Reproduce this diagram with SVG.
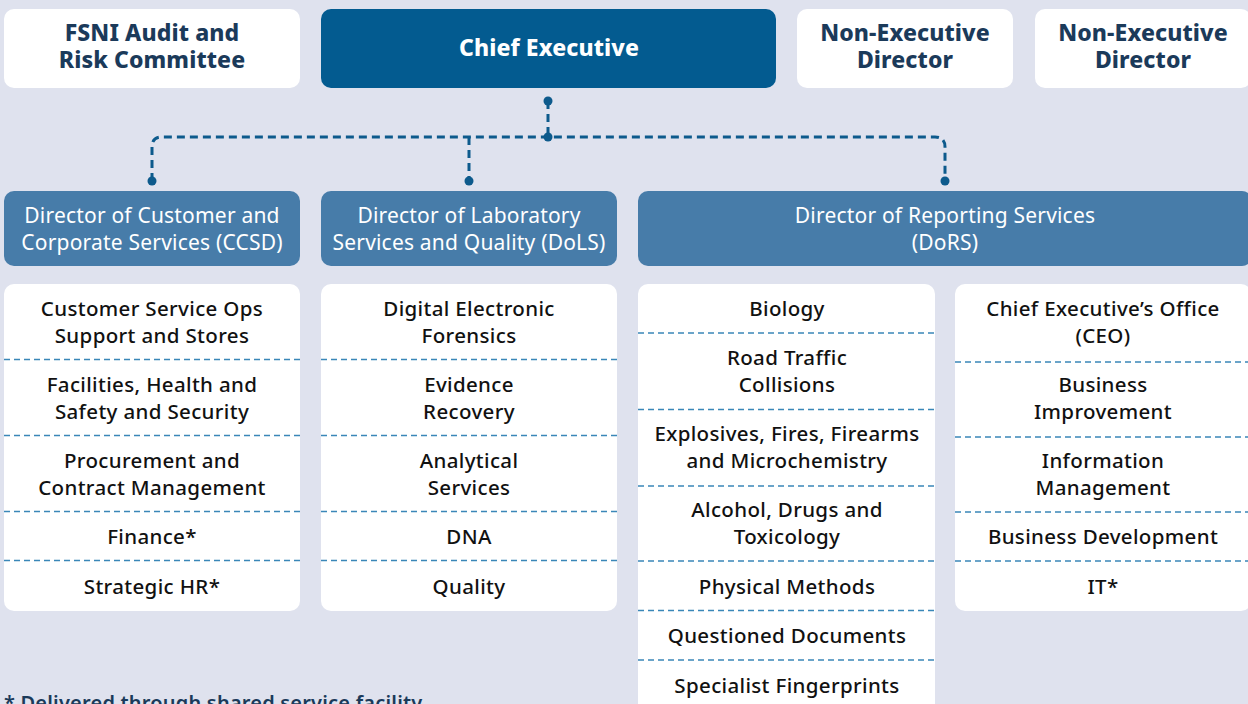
<svg xmlns="http://www.w3.org/2000/svg" width="1248" height="704" viewBox="0 0 1248 704">
<style>
.bg{fill:#dfe2ee}
.wbox{fill:#ffffff}
.ce{fill:#035b90}
.dir{fill:#477ca9}
.t{font-family:"Noto Sans",Lato,sans-serif;text-anchor:middle}
.top{font-size:23px;font-weight:800;fill:#1b3a5a;letter-spacing:0.1px}
.cet{font-size:23px;font-weight:800;fill:#ffffff;letter-spacing:0.1px}
.dt{font-size:21px;font-weight:400;fill:#ffffff;letter-spacing:0.2px}
.st{font-size:20.5px;font-weight:500;fill:#111111;letter-spacing:0.35px}
.div{stroke:#3a87b8;stroke-width:1.5;stroke-dasharray:6 4;fill:none}
.con{stroke:#0d5a8c;stroke-width:3;stroke-dasharray:8 5;fill:none}
.dot{fill:#0d5a8c}
.foot{font-family:"Noto Sans",Lato,sans-serif;font-size:20px;font-weight:600;fill:#1b3a5a;letter-spacing:0.2px}
</style>
<rect class="bg" x="0" y="0" width="1248" height="704"/>

<g id="connectors">
<path class="con" d="M548,101 V137"/>
<path class="con" d="M152,181 V147 Q152,137 162,137 H935 Q945,137 945,147 V181"/>
<path class="con" d="M469,137 V181"/>
<circle class="dot" cx="548" cy="101" r="4.5"/>
<circle class="dot" cx="548" cy="137" r="4.5"/>
<circle class="dot" cx="152" cy="181" r="4.5"/>
<circle class="dot" cx="469" cy="181" r="4.5"/>
<circle class="dot" cx="945" cy="181" r="4.5"/>
</g>

<g id="fsni">
<rect class="wbox" x="4" y="9" width="296" height="79" rx="10"/>
<text class="t top" x="152" y="41">FSNI Audit and</text>
<text class="t top" x="152" y="68">Risk Committee</text>
</g>
<g id="chief-executive">
<rect class="ce" x="321" y="9" width="455" height="79" rx="10"/>
<text class="t cet" x="549" y="56">Chief Executive</text>
</g>
<g id="ned1">
<rect class="wbox" x="797" y="9" width="216" height="79" rx="10"/>
<text class="t top" x="905" y="41">Non-Executive</text>
<text class="t top" x="905" y="68">Director</text>
</g>
<g id="ned2">
<rect class="wbox" x="1035" y="9" width="216" height="79" rx="10"/>
<text class="t top" x="1143" y="41">Non-Executive</text>
<text class="t top" x="1143" y="68">Director</text>
</g>

<g id="ccsd">
<rect class="dir" x="4" y="191" width="296" height="75" rx="10"/>
<text class="t dt" x="152" y="223">Director of Customer and</text>
<text class="t dt" x="152" y="250">Corporate Services (CCSD)</text>
</g>
<g id="dols">
<rect class="dir" x="321" y="191" width="296" height="75" rx="10"/>
<text class="t dt" x="469" y="223">Director of Laboratory</text>
<text class="t dt" x="469" y="250">Services and Quality (DoLS)</text>
</g>
<g id="dors">
<rect class="dir" x="638" y="191" width="614" height="75" rx="10"/>
<text class="t dt" x="945" y="223">Director of Reporting Services</text>
<text class="t dt" x="945" y="250">(DoRS)</text>
</g>

<g id="ccsd-units">
<rect class="wbox" x="4" y="284" width="296" height="327" rx="10"/>
<line class="div" x1="4" y1="359.5" x2="300" y2="359.5"/>
<line class="div" x1="4" y1="435.5" x2="300" y2="435.5"/>
<line class="div" x1="4" y1="511.5" x2="300" y2="511.5"/>
<line class="div" x1="4" y1="560.5" x2="300" y2="560.5"/>
<text class="t st" x="152" y="316">Customer Service Ops</text>
<text class="t st" x="152" y="343">Support and Stores</text>
<text class="t st" x="152" y="392">Facilities, Health and</text>
<text class="t st" x="152" y="419">Safety and Security</text>
<text class="t st" x="152" y="468">Procurement and</text>
<text class="t st" x="152" y="495">Contract Management</text>
<text class="t st" x="152" y="544">Finance*</text>
<text class="t st" x="152" y="594">Strategic HR*</text>
</g>

<g id="dols-units">
<rect class="wbox" x="321" y="284" width="296" height="327" rx="10"/>
<line class="div" x1="321" y1="359.5" x2="617" y2="359.5"/>
<line class="div" x1="321" y1="435.5" x2="617" y2="435.5"/>
<line class="div" x1="321" y1="511.5" x2="617" y2="511.5"/>
<line class="div" x1="321" y1="560.5" x2="617" y2="560.5"/>
<text class="t st" x="469" y="316">Digital Electronic</text>
<text class="t st" x="469" y="343">Forensics</text>
<text class="t st" x="469" y="392">Evidence</text>
<text class="t st" x="469" y="419">Recovery</text>
<text class="t st" x="469" y="468">Analytical</text>
<text class="t st" x="469" y="495">Services</text>
<text class="t st" x="469" y="544">DNA</text>
<text class="t st" x="469" y="594">Quality</text>
</g>

<g id="dors-units">
<rect class="wbox" x="638" y="284" width="297" height="440" rx="10"/>
<line class="div" x1="638" y1="333" x2="935" y2="333"/>
<line class="div" x1="638" y1="409.5" x2="935" y2="409.5"/>
<line class="div" x1="638" y1="486" x2="935" y2="486"/>
<line class="div" x1="638" y1="561" x2="935" y2="561"/>
<line class="div" x1="638" y1="610.5" x2="935" y2="610.5"/>
<line class="div" x1="638" y1="660" x2="935" y2="660"/>
<text class="t st" x="787" y="316">Biology</text>
<text class="t st" x="787" y="365">Road Traffic</text>
<text class="t st" x="787" y="392">Collisions</text>
<text class="t st" x="787" y="441">Explosives, Fires, Firearms</text>
<text class="t st" x="787" y="468">and Microchemistry</text>
<text class="t st" x="787" y="517">Alcohol, Drugs and</text>
<text class="t st" x="787" y="544">Toxicology</text>
<text class="t st" x="787" y="594">Physical Methods</text>
<text class="t st" x="787" y="643">Questioned Documents</text>
<text class="t st" x="787" y="693">Specialist Fingerprints</text>
</g>

<g id="ceo-units">
<rect class="wbox" x="955" y="284" width="296" height="327" rx="10"/>
<line class="div" x1="955" y1="362" x2="1251" y2="362"/>
<line class="div" x1="955" y1="437" x2="1251" y2="437"/>
<line class="div" x1="955" y1="512" x2="1251" y2="512"/>
<line class="div" x1="955" y1="561" x2="1251" y2="561"/>
<text class="t st" x="1103" y="316">Chief Executive’s Office</text>
<text class="t st" x="1103" y="343">(CEO)</text>
<text class="t st" x="1103" y="392">Business</text>
<text class="t st" x="1103" y="419">Improvement</text>
<text class="t st" x="1103" y="468">Information</text>
<text class="t st" x="1103" y="495">Management</text>
<text class="t st" x="1103" y="544">Business Development</text>
<text class="t st" x="1103" y="594">IT*</text>
</g>

<text class="foot" x="4" y="710">* Delivered through shared service facility</text>
</svg>
